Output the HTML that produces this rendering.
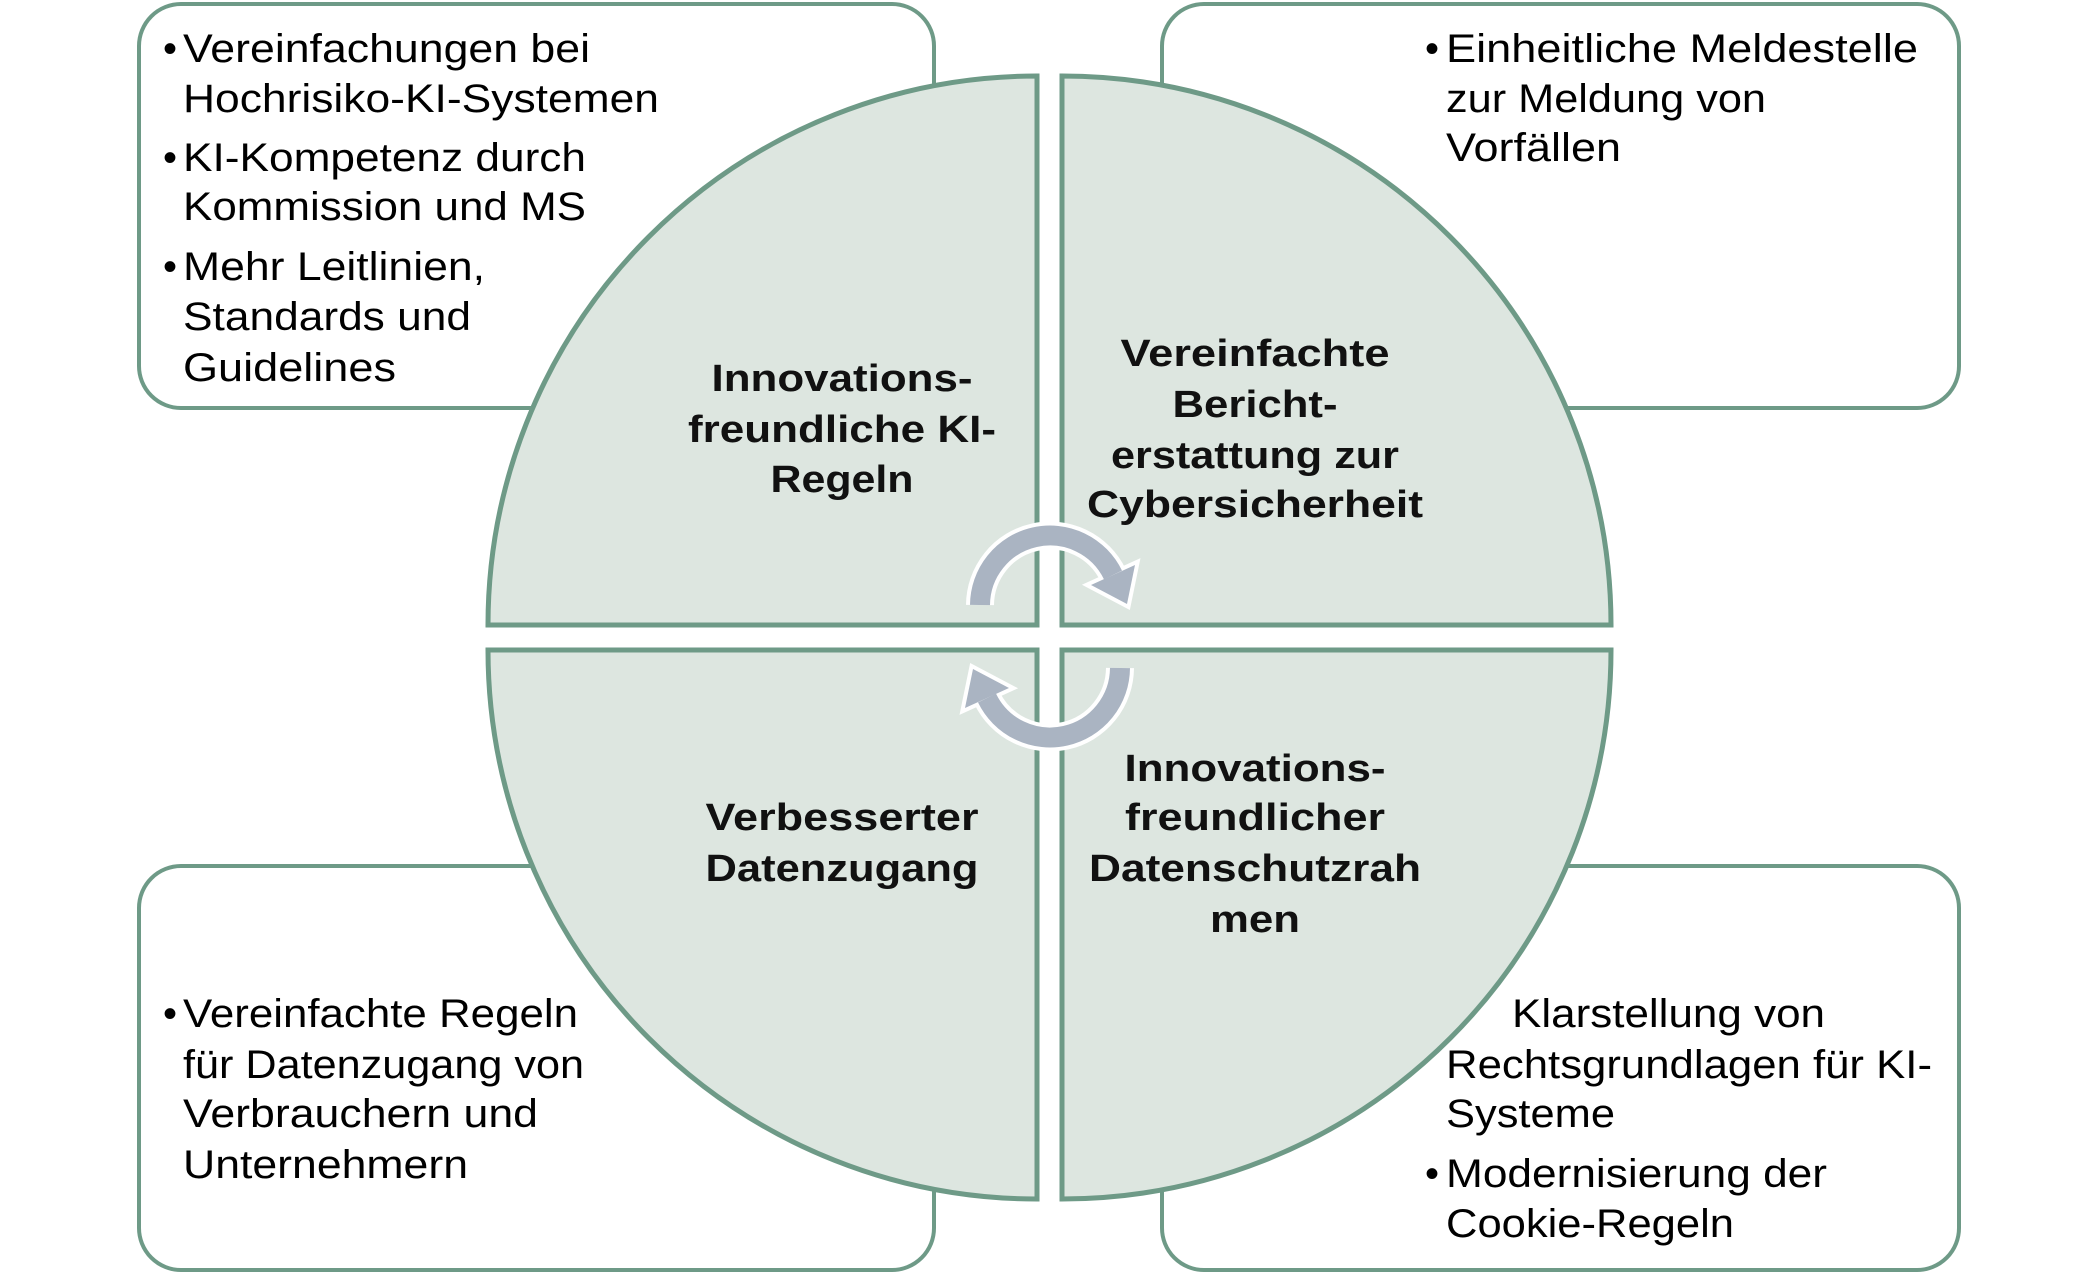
<!DOCTYPE html>
<html><head><meta charset="utf-8"><style>html,body{margin:0;padding:0;background:#fff}svg{display:block}</style></head>
<body>
<svg width="2098" height="1279" viewBox="0 0 2098 1279" xmlns="http://www.w3.org/2000/svg" font-family="Liberation Sans, sans-serif">
<g fill="#fff" stroke="#6e9a87" stroke-width="4">
<rect x="139" y="4" width="795" height="404" rx="42"/>
<rect x="1162" y="4" width="797" height="404" rx="42"/>
<rect x="139" y="866" width="795" height="404" rx="42"/>
<rect x="1162" y="866" width="797" height="404" rx="42"/>
</g>
<g fill="#dde6e0" stroke="#6e9a87" stroke-width="5">
<path d="M1037 625 L1037 76 A549 549 0 0 0 488 625 Z"/>
<path d="M1062 625 L1062 76 A549 549 0 0 1 1611 625 Z"/>
<path d="M1037 650 L1037 1199 A549 549 0 0 1 488 650 Z"/>
<path d="M1062 650 L1062 1199 A549 549 0 0 0 1611 650 Z"/>
</g>
<g font-size="40" fill="#000">
<text x="163" y="62">•</text>
<text x="183" y="62" textLength="407" lengthAdjust="spacingAndGlyphs">Vereinfachungen bei</text>
<text x="183" y="112" textLength="476" lengthAdjust="spacingAndGlyphs">Hochrisiko-KI-Systemen</text>
<text x="163" y="171">•</text>
<text x="183" y="171" textLength="403" lengthAdjust="spacingAndGlyphs">KI-Kompetenz durch</text>
<text x="183" y="220" textLength="403" lengthAdjust="spacingAndGlyphs">Kommission und MS</text>
<text x="163" y="280">•</text>
<text x="183" y="280" textLength="302" lengthAdjust="spacingAndGlyphs">Mehr Leitlinien,</text>
<text x="183" y="330" textLength="288" lengthAdjust="spacingAndGlyphs">Standards und</text>
<text x="183" y="381" textLength="213" lengthAdjust="spacingAndGlyphs">Guidelines</text>

<text x="1425" y="62">•</text>
<text x="1446" y="62" textLength="472" lengthAdjust="spacingAndGlyphs">Einheitliche Meldestelle</text>
<text x="1446" y="112" textLength="320" lengthAdjust="spacingAndGlyphs">zur Meldung von</text>
<text x="1446" y="161" textLength="175" lengthAdjust="spacingAndGlyphs">Vorfällen</text>

<text x="163" y="1027">•</text>
<text x="183" y="1027" textLength="395" lengthAdjust="spacingAndGlyphs">Vereinfachte Regeln</text>
<text x="183" y="1078" textLength="401" lengthAdjust="spacingAndGlyphs">für Datenzugang von</text>
<text x="183" y="1127" textLength="355" lengthAdjust="spacingAndGlyphs">Verbrauchern und</text>
<text x="183" y="1178" textLength="285" lengthAdjust="spacingAndGlyphs">Unternehmern</text>

<text x="1512" y="1027" textLength="313" lengthAdjust="spacingAndGlyphs">Klarstellung von</text>
<text x="1446" y="1078" textLength="486" lengthAdjust="spacingAndGlyphs">Rechtsgrundlagen für KI-</text>
<text x="1446" y="1127" textLength="169" lengthAdjust="spacingAndGlyphs">Systeme</text>
<text x="1425" y="1187">•</text>
<text x="1446" y="1187" textLength="381" lengthAdjust="spacingAndGlyphs">Modernisierung der</text>
<text x="1446" y="1237" textLength="288" lengthAdjust="spacingAndGlyphs">Cookie-Regeln</text>
</g>
<g font-size="38" font-weight="bold" fill="#111" text-anchor="middle">
<text x="842" y="391" textLength="261" lengthAdjust="spacingAndGlyphs">Innovations-</text>
<text x="842" y="442" textLength="308" lengthAdjust="spacingAndGlyphs">freundliche KI-</text>
<text x="842" y="492" textLength="143" lengthAdjust="spacingAndGlyphs">Regeln</text>
<text x="1255" y="366" textLength="269" lengthAdjust="spacingAndGlyphs">Vereinfachte</text>
<text x="1255" y="417" textLength="165" lengthAdjust="spacingAndGlyphs">Bericht-</text>
<text x="1255" y="468" textLength="288" lengthAdjust="spacingAndGlyphs">erstattung zur</text>
<text x="1255" y="517" textLength="336" lengthAdjust="spacingAndGlyphs">Cybersicherheit</text>
<text x="842" y="830" textLength="273" lengthAdjust="spacingAndGlyphs">Verbesserter</text>
<text x="842" y="881" textLength="273" lengthAdjust="spacingAndGlyphs">Datenzugang</text>
<text x="1255" y="781" textLength="261" lengthAdjust="spacingAndGlyphs">Innovations-</text>
<text x="1255" y="830" textLength="260" lengthAdjust="spacingAndGlyphs">freundlicher</text>
<text x="1255" y="881" textLength="332" lengthAdjust="spacingAndGlyphs">Datenschutzrah</text>
<text x="1255" y="932" textLength="90" lengthAdjust="spacingAndGlyphs">men</text>
</g>
<!-- cycle arrows -->
<g fill="none" stroke-linecap="butt">
<path d="M980 605 A70 70 0 0 1 1113 575" stroke="#fff" stroke-width="28"/>
<path d="M1120 668 A70 70 0 0 1 987 698" stroke="#fff" stroke-width="28"/>
</g>
<g fill="#fff" stroke="#fff" stroke-width="8" stroke-linejoin="miter">
<polygon points="1135,565 1091,585 1127,604"/>
<polygon points="965,708 1009,688 973,669"/>
</g>
<g fill="none">
<path d="M980 605 A70 70 0 0 1 1113 575" stroke="#aab4c2" stroke-width="20"/>
<path d="M1120 668 A70 70 0 0 1 987 698" stroke="#aab4c2" stroke-width="20"/>
</g>
<g fill="#aab4c2">
<polygon points="1135,565 1091,585 1127,604"/>
<polygon points="965,708 1009,688 973,669"/>
</g>
</svg>
</body></html>
